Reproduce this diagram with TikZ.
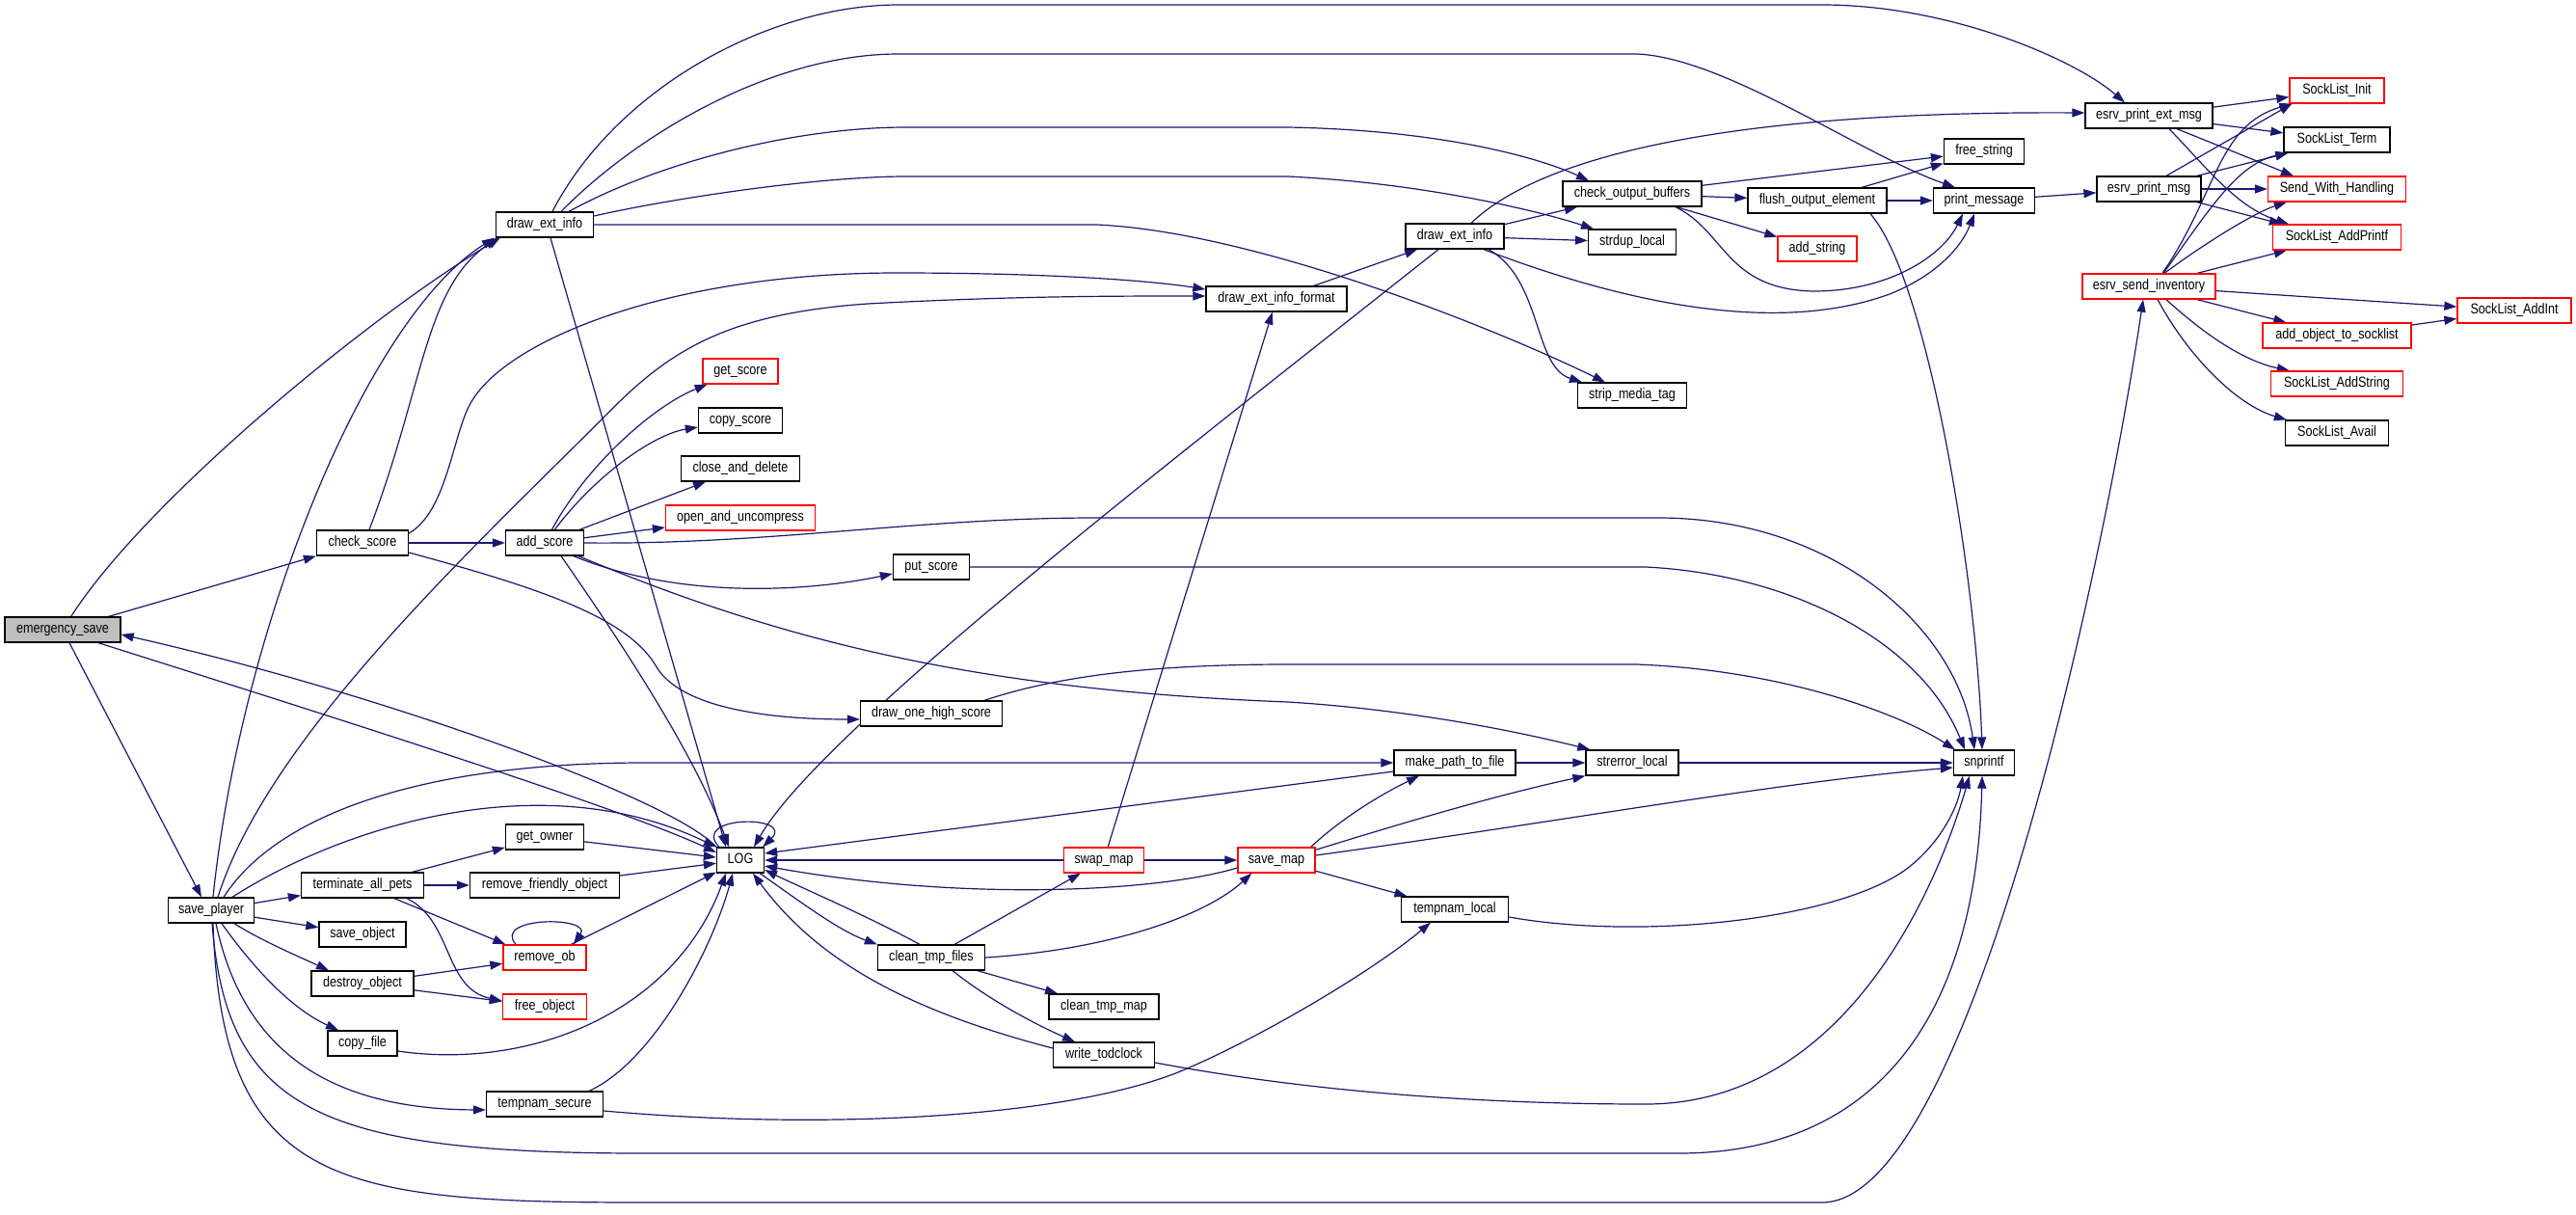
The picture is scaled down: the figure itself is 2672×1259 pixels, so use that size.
\documentclass[tikz,border=0pt]{standalone}
\usepackage{fontspec}
\setmainfont{Liberation Sans}[FakeStretch=0.84]
\usetikzlibrary{arrows.meta,backgrounds}
\definecolor{edgeblue}{RGB}{25,25,112}
\definecolor{nodered}{RGB}{255,0,0}
\definecolor{rootgray}{RGB}{191,191,191}
\begin{document}
\begin{tikzpicture}[x=1pt,y=-1pt,
 fn/.style={draw=black,line width=1.3pt,fill=white,minimum height=26pt,inner sep=0pt,font=\fontsize{15}{17}\selectfont,text height=10.5pt,text depth=3pt},
 rn/.style={fn,draw=nodered},
 gn/.style={fn,fill=rootgray},
 ed/.style={draw=edgeblue,line width=1.2pt,-{Triangle[length=13pt,width=9pt]}},
]
\useasboundingbox (0,0) rectangle (2672,1259);
% nodes
\node[gn,minimum width=120pt] (es) at (65,653) {emergency\_save};
\node[fn,minimum width=89pt] (sp) at (219,944) {save\_player};
\node[fn,minimum width=95pt] (cs) at (376,563) {check\_score};
\node[fn,minimum width=81pt] (as) at (565,563) {add\_score};
\node[fn,minimum width=101pt] (dei1) at (565,233) {draw\_ext\_info};
\node[fn,minimum width=127pt] (tap) at (376,918) {terminate\_all\_pets};
\node[fn,minimum width=90pt] (so) at (376,969) {save\_object};
\node[fn,minimum width=106pt] (do) at (376,1020) {destroy\_object};
\node[fn,minimum width=72pt] (cf) at (376,1082) {copy\_file};
\node[fn,minimum width=81pt] (go) at (565,868) {get\_owner};
\node[fn,minimum width=155pt] (rfo) at (565,918) {remove\_friendly\_object};
\node[rn,minimum width=86pt] (rob) at (565,993) {remove\_ob};
\node[rn,minimum width=87pt] (fo) at (565,1044) {free\_object};
\node[fn,minimum width=121pt] (ts) at (565,1145) {tempnam\_secure};
\node[rn,minimum width=78pt] (gs) at (768,385) {get\_score};
\node[fn,minimum width=87pt] (csc) at (768,436) {copy\_score};
\node[fn,minimum width=123pt] (cad) at (768,486) {close\_and\_delete};
\node[rn,minimum width=155pt] (oau) at (768,537) {open\_and\_uncompress};
\node[fn,minimum width=49pt] (lg) at (768,892) {LOG};
\node[fn,minimum width=79pt] (ps) at (966,588) {put\_score};
\node[fn,minimum width=147pt] (dohs) at (966,740) {draw\_one\_high\_score};
\node[fn,minimum width=111pt] (ctf) at (966,993) {clean\_tmp\_files};
\node[rn,minimum width=83pt] (sw) at (1145,892) {swap\_map};
\node[fn,minimum width=114pt] (ctm) at (1145,1044) {clean\_tmp\_map};
\node[fn,minimum width=105pt] (wt) at (1145,1094) {write\_todclock};
\node[fn,minimum width=146pt] (dfmt) at (1324,310) {draw\_ext\_info\_format};
\node[rn,minimum width=80pt] (svm) at (1324,892) {save\_map};
\node[fn,minimum width=102pt] (dei2) at (1509,245) {draw\_ext\_info};
\node[fn,minimum width=126pt] (mptf) at (1509,791) {make\_path\_to\_file};
\node[fn,minimum width=111pt] (tl) at (1509,943) {tempnam\_local};
\node[fn,minimum width=144pt] (cob) at (1693,201) {check\_output\_buffers};
\node[fn,minimum width=91pt] (sdl) at (1693,251) {strdup\_local};
\node[fn,minimum width=113pt] (smt) at (1693,410) {strip\_media\_tag};
\node[fn,minimum width=96pt] (sel) at (1693,791) {strerror\_local};
\node[fn,minimum width=144pt] (foe) at (1885,208) {flush\_output\_element};
\node[rn,minimum width=82pt] (ads) at (1885,258) {add\_string};
\node[fn,minimum width=83pt] (fs) at (2058,157) {free\_string};
\node[fn,minimum width=105pt] (pm) at (2058,208) {print\_message};
\node[fn,minimum width=63pt] (snp) at (2058,791) {snprintf};
\node[fn,minimum width=132pt] (epem) at (2229,120) {esrv\_print\_ext\_msg};
\node[fn,minimum width=108pt] (epm) at (2229,196) {esrv\_print\_msg};
\node[rn,minimum width=138pt] (esi) at (2229,297) {esrv\_send\_inventory};
\node[rn,minimum width=98pt] (sli) at (2424,94) {SockList\_Init};
\node[fn,minimum width=110pt] (slt) at (2424,145) {SockList\_Term};
\node[rn,minimum width=143pt] (swh) at (2424,196) {Send\_With\_Handling};
\node[rn,minimum width=133pt] (slap) at (2424,246) {SockList\_AddPrintf};
\node[rn,minimum width=118pt] (slai) at (2608,322) {SockList\_AddInt};
\node[rn,minimum width=154pt] (aots) at (2424,348) {add\_object\_to\_socklist};
\node[rn,minimum width=137pt] (slas) at (2424,398) {SockList\_AddString};
\node[fn,minimum width=107pt] (slav) at (2424,449) {SockList\_Avail};

\begin{scope}[on background layer]
\fill[white] (0,0) rectangle (2672,1259);
% emergency_save
\draw[ed] (es) .. controls (150,520) and (380,330) .. ([xshift=5pt]dei1.south west);
\draw[ed] ([xshift=-13pt]es.north east) -- (cs.south west);
\draw[ed] ([xshift=7pt]es.south) -- ([xshift=-10pt]sp.north);
\draw[ed] ([xshift=37pt]es.south) .. controls (350,745) and (650,840) .. ([yshift=8pt]lg.west);
\draw[ed] (lg.north west) .. controls (700,830) and (400,720) .. ([yshift=-5pt]es.east);
% check_score
\draw[ed] ([xshift=7pt]cs.north) .. controls (440,400) and (440,300) .. ([xshift=2pt]dei1.south west);
\draw[ed] ([yshift=10pt]cs.east) .. controls (465,530) and (470,445) .. (490,415) .. controls (530,350) and (700,283) .. (930,283) .. controls (1100,283) and (1200,292) .. ([yshift=10pt]dfmt.west);
\draw[ed] (cs) -- (as);
\draw[ed] ([yshift=-10pt]cs.east) .. controls (560,610) and (650,640) .. (680,690) .. controls (705,735) and (800,746) .. ([yshift=-6pt]dohs.west);
% add_score
\draw[ed] (as) .. controls (610,480) and (680,420) .. (gs);
\draw[ed] (as) .. controls (620,490) and (680,450) .. (csc);
\draw[ed] (as) -- (cad);
\draw[ed] (as) -- (oau);
\draw[ed] (as.east) .. controls (800,565) and (950,537) .. (1137,537) -- (1720,537) .. controls (1900,537) and (2030,650) .. ([xshift=-10pt]snp.north);
\draw[ed] ([xshift=30pt]as.south) .. controls (700,620) and (830,615) .. ([yshift=-7pt]ps.west);
\draw[ed] ([xshift=35pt]as.south) .. controls (800,660) and (1000,715) .. (1336,728) .. controls (1450,735) and (1560,755) .. ([xshift=5pt]sel.north west);
\draw[ed] ([xshift=17pt]as.south) .. controls (640,660) and (720,780) .. ([xshift=-12pt]lg.north);
% draw_ext_info (1)
\draw[ed] ([xshift=6pt]dei1.south) -- ([xshift=-15pt]lg.north);
\draw[ed] ([xshift=8pt]dei1.north) .. controls (640,90) and (800,5) .. (932,5) -- (1890,5) .. controls (2020,5) and (2150,60) .. ([xshift=-25pt]epem.north);
\draw[ed] ([xshift=17pt]dei1.north) .. controls (660,140) and (800,56) .. (932,56) -- (1698,56) .. controls (1790,60) and (1930,160) .. ([xshift=-30pt]pm.north);
\draw[ed] ([xshift=25pt]dei1.north) .. controls (680,170) and (820,132) .. (940,132) -- (1336,132) .. controls (1500,135) and (1600,165) .. ([xshift=-45pt]cob.north);
\draw[ed] ([yshift=9pt]dei1.east) .. controls (700,205) and (850,183) .. (940,183) -- (1336,183) .. controls (1480,190) and (1600,220) .. ([xshift=-40pt]sdl.north);
\draw[ed] (dei1.east) -- (1137,233) .. controls (1300,240) and (1550,340) .. ([xshift=-28pt]smt.north);
% draw_ext_info (2)
\draw[ed] (dei2) -- (cob);
\draw[ed] (dei2) -- (sdl);
\draw[ed] ([xshift=35pt]dei2.south) .. controls (1600,290) and (1590,380) .. ([xshift=-52pt]smt.north);
\draw[ed] ([xshift=30pt]dei2.south) .. controls (1700,320) and (1850,345) .. (1960,305) .. controls (2010,285) and (2035,255) .. ([xshift=-10pt]pm.south);
\draw[ed] ([xshift=17pt]dei2.north) .. controls (1600,160) and (1800,115) .. ([yshift=3pt]epem.west);
\draw[ed] ([xshift=-17pt]dei2.south) .. controls (1200,490) and (850,760) .. ([xshift=14pt]lg.north);
\draw[ed] (dfmt) -- (dei2);
\draw[ed] (sw) -- (dfmt);
% check_output_buffers / flush
\draw[ed] (cob) -- (foe);
\draw[ed] (cob) -- (ads);
\draw[ed] (cob) -- (fs);
\draw[ed] ([xshift=45pt]cob.south) .. controls (1790,240) and (1790,300) .. (1881,302) .. controls (1960,302) and (2015,265) .. ([xshift=-22pt]pm.south);
\draw[ed] (foe) -- (fs);
\draw[ed] (foe) -- (pm);
\draw[ed] ([xshift=55pt]foe.south) .. controls (2000,290) and (2050,600) .. ([xshift=-2pt]snp.north);
\draw[ed] (pm) -- (epm);
% esrv
\draw[ed] (epem) -- (sli);
\draw[ed] (epem) -- (slt);
\draw[ed] ([xshift=29pt]epem.south) -- ([xshift=-45pt]swh.north);
\draw[ed] ([xshift=21pt]epem.south) .. controls (2290,175) and (2320,215) .. ([xshift=-50pt]slap.north);
\draw[ed] ([xshift=18pt]epm.north) -- ([xshift=3pt]sli.south west);
\draw[ed] ([xshift=50pt]epm.north) -- ([xshift=5pt]slt.south west);
\draw[ed] (epm) -- (swh);
\draw[ed] ([xshift=50pt]epm.south) -- ([xshift=10pt]slap.north west);
\draw[ed] ([xshift=14pt]esi.north) .. controls (2300,200) and (2300,130) .. ([xshift=3pt]sli.south west);
\draw[ed] ([xshift=15pt]esi.north) .. controls (2290,220) and (2320,170) .. ([xshift=5pt]slt.south west);
\draw[ed] ([xshift=16pt]esi.north) .. controls (2290,250) and (2340,220) .. ([xshift=20pt]swh.south west);
\draw[ed] ([xshift=50pt]esi.north) -- ([xshift=15pt]slap.south west);
\draw[ed] (esi) -- (slai);
\draw[ed] ([xshift=50pt]esi.south) -- ([xshift=25pt]aots.north west);
\draw[ed] ([xshift=18pt]esi.south) .. controls (2290,350) and (2330,375) .. ([xshift=20pt]slas.north west);
\draw[ed] ([xshift=9pt]esi.south) .. controls (2270,370) and (2320,420) .. ([xshift=2pt]slav.north west);
\draw[ed] (aots) -- (slai);
% save_player
\draw[ed] ([xshift=2pt]sp.north) .. controls (250,650) and (380,330) .. ([xshift=-1pt]dei1.south west);
\draw[ed] ([xshift=7pt]sp.north) .. controls (280,760) and (500,560) .. (639,420) .. controls (700,360) and (760,325) .. (900,315) .. controls (1050,307) and (1150,307) .. ([yshift=3pt]dfmt.west);
\draw[ed] ([xshift=13pt]sp.north) .. controls (290,840) and (450,791) .. (668,791) -- (mptf.west);
\draw[ed] ([xshift=22pt]sp.north) .. controls (350,860) and (560,790) .. (lg.north west);
\draw[ed] (sp) -- (tap);
\draw[ed] (sp) -- (so);
\draw[ed] ([xshift=24pt]sp.south) .. controls (270,975) and (310,992) .. ([xshift=-35pt]do.north);
\draw[ed] ([xshift=11pt]sp.south) .. controls (260,1000) and (300,1045) .. ([xshift=-25pt]cf.north);
\draw[ed] ([xshift=5pt]sp.south) .. controls (250,1080) and (330,1150) .. ([yshift=-6pt]ts.west);
\draw[ed] ([xshift=1pt]sp.south) .. controls (235,1150) and (330,1196) .. (668,1196) -- (1741,1196) .. controls (1950,1196) and (2050,1050) .. ([xshift=-2pt]snp.south);
\draw[ed] ([xshift=2pt]sp.south) .. controls (230,1230) and (350,1247) .. (668,1247) -- (1890,1247) .. controls (2040,1247) and (2180,600) .. ([xshift=-6pt]esi.south);
% pets / objects
\draw[ed] (tap) -- (go);
\draw[ed] (tap) -- (rfo);
\draw[ed] ([xshift=33pt]tap.south) -- ([xshift=3pt]rob.north west);
\draw[ed] ([xshift=46pt]tap.south) .. controls (470,955) and (460,1025) .. ([yshift=6pt]fo.west);
\draw[ed] (do) -- (rob);
\draw[ed] (do) -- (fo);
\draw[ed] (go) -- (lg);
\draw[ed] (rfo) -- (lg);
\draw[ed] (rob) -- (lg);
\draw[ed] ([xshift=-30pt]rob.north) .. controls (510,950) and (615,950) .. ([xshift=30pt]rob.north);
\draw[ed] ([yshift=-8pt]cf.east) .. controls (550,1110) and (700,1050) .. ([xshift=-15pt]lg.south);
\draw[ed] ([xshift=46pt]ts.north) .. controls (680,1100) and (740,980) .. ([xshift=-8pt]lg.south);
\draw[ed] ([yshift=-7pt]ts.east) .. controls (850,1172) and (1100,1160) .. (1222,1112) .. controls (1300,1080) and (1420,1010) .. ([xshift=-25pt]tl.south);
% LOG
\draw[ed] ([xshift=3pt]lg.north west) .. controls (715,845) and (825,845) .. ([xshift=-2pt]lg.north east);
\draw[ed] ([xshift=-5pt]lg.south east) .. controls (830,935) and (870,965) .. (ctf.north west);
% maps
\draw[ed] (sw) -- (svm);
\draw[ed] (sw) -- (lg);
\draw[ed] ([yshift=-9pt]mptf.west) -- ([yshift=7pt]lg.east);
\draw[ed] (mptf) -- (sel);
\draw[ed] ([xshift=-5pt]svm.north east) .. controls (1390,850) and (1430,825) .. ([xshift=-37pt]mptf.south);
\draw[ed] ([yshift=-3pt]svm.north east) .. controls (1450,855) and (1550,825) .. (sel.south west);
\draw[ed] ([yshift=5pt]svm.east) .. controls (1600,855) and (1850,810) .. ([yshift=-5pt]snp.west);
\draw[ed] (svm) -- (tl);
\draw[ed] ([yshift=-8pt]svm.west) .. controls (1200,925) and (1000,935) .. ([yshift=-6pt]lg.east);
\draw[ed] (sel) -- (snp);
\draw[ed] (ps.east) -- (1707,588) .. controls (1850,595) and (1990,660) .. ([xshift=-20pt]snp.north);
\draw[ed] ([xshift=55pt]dohs.north) .. controls (1100,700) and (1200,689) .. (1336,689) -- (1698,689) .. controls (1850,695) and (1970,740) .. ([xshift=2pt]snp.north west);
\draw[ed] ([yshift=-8pt]tl.east) .. controls (1700,975) and (1900,955) .. (1975,903) .. controls (2010,878) and (2030,840) .. ([xshift=-22pt]snp.south);
\draw[ed] ([yshift=-8pt]wt.east) .. controls (1400,1140) and (1600,1145) .. (1707,1145) .. controls (1900,1145) and (2000,950) .. ([xshift=-15pt]snp.south);
% clean_tmp_files
\draw[ed] (ctf) -- (sw);
\draw[ed] (ctf.east) .. controls (1150,985) and (1250,950) .. ([xshift=15pt]svm.south west);
\draw[ed] (ctf) -- (ctm);
\draw[ed] ([xshift=22pt]ctf.south) .. controls (1030,1040) and (1080,1065) .. ([xshift=-30pt]wt.north);
\draw[ed] ([xshift=-12pt]ctf.north) .. controls (900,950) and (830,920) .. ([yshift=-10pt]lg.east);
\draw[ed] ([yshift=7pt]wt.west) .. controls (950,1050) and (850,1000) .. ([xshift=13pt]lg.south);
\end{scope}
\end{tikzpicture}
\end{document}
